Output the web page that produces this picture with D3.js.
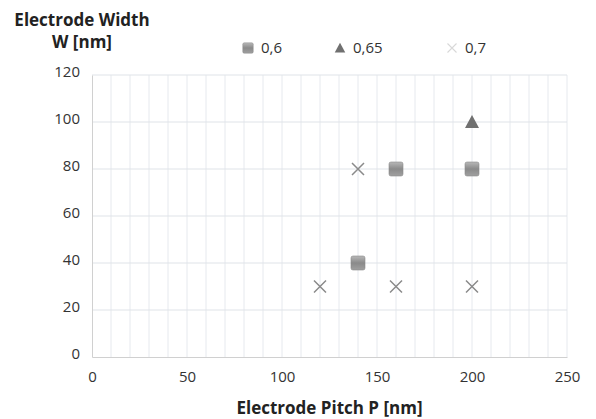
<!DOCTYPE html>
<html>
<head>
<meta charset="utf-8">
<script src="https://cdn.jsdelivr.net/npm/d3@7"></script>
<style>
  body { margin: 0; background: #fff; }
  text { font-family: "Open Sans", sans-serif; }
</style>
</head>
<body>
<div id="chart"></div>
<script>
// series values (x = pitch, y = width)
var seriesNames = ["0,6", "0,65", "0,7"];
var pitch06 = [140, 160, 200];
var width06 = [40, 80, 80];
var pitch065 = [200];
var width065 = [100];
var pitch07 = [120, 140, 160, 200];
var width07 = [30, 80, 30, 30];
var xTicks = [0, 50, 100, 150, 200, 250];
var yTicks = [0, 20, 40, 60, 80, 100, 120];

var W = 596, H = 419;
var margin = {top: 75, right: 29, bottom: 62, left: 92};
var width = W - margin.left - margin.right,
    height = H - margin.top - margin.bottom;

var svg = d3.select("#chart").append("svg")
  .attr("width", W).attr("height", H);

var defs = svg.append("defs");
var grad = defs.append("linearGradient").attr("id", "sq").attr("x1", 0).attr("y1", 0).attr("x2", 0).attr("y2", 1);
grad.append("stop").attr("offset", "0%").attr("stop-color", "#b8b8b8");
grad.append("stop").attr("offset", "50%").attr("stop-color", "#8a8a8a");
grad.append("stop").attr("offset", "100%").attr("stop-color", "#a0a0a0");

var g = svg.append("g").attr("transform", "translate(" + margin.left + "," + margin.top + ")");

var x = d3.scaleLinear().domain([0, 250]).range([0, width]);
var y = d3.scaleLinear().domain([0, 120]).range([height, 0]);

// minor vertical gridlines every 10
g.append("g").selectAll("line").data(d3.range(10, 251, 10)).join("line")
  .attr("x1", d => x(d)).attr("x2", d => x(d))
  .attr("y1", 0).attr("y2", height)
  .attr("stroke", "#e6e9ee").attr("stroke-width", 1);

// horizontal gridlines
g.append("g").selectAll("line").data(yTicks.slice(1)).join("line")
  .attr("x1", 0).attr("x2", width)
  .attr("y1", d => y(d)).attr("y2", d => y(d))
  .attr("stroke", "#dfe3e8").attr("stroke-width", 1);

// axes
var xAxis = g.append("g").attr("transform", "translate(0," + height + ")")
  .call(d3.axisBottom(x).tickValues(xTicks).tickSize(0).tickPadding(14));
var yAxis = g.append("g")
  .call(d3.axisLeft(y).tickValues(yTicks).tickSize(0).tickPadding(12));
[xAxis, yAxis].forEach(function(a) {
  a.select(".domain").attr("stroke", "#d0d0d0");
  a.selectAll("text").attr("fill", "#333").style("font-size", "15px")
    .style("font-family", "'Open Sans', sans-serif");
});
yAxis.selectAll("text").attr("dy", "0.1em");

// markers
function square(sel) {
  sel.append("rect").attr("x", -7).attr("y", -7).attr("width", 14).attr("height", 14)
    .attr("rx", 2).attr("fill", "url(#sq)").attr("stroke", "#8a8a8a").attr("stroke-width", 0.6);
}
function triangle(sel, c) {
  sel.append("path").attr("d", "M0,-7L7,6L-7,6Z").attr("fill", c || "#707070");
}
function cross(sel, c) {
  sel.append("path").attr("d", "M-6,-6L6,6M-6,6L6,-6").attr("stroke", c || "#8a8a8a")
    .attr("stroke-width", 1.5).attr("fill", "none");
}

g.append("g").selectAll("g").data(d3.zip(pitch06, width06)).join("g")
  .attr("transform", d => "translate(" + x(d[0]) + "," + y(d[1]) + ")")
  .call(square);
g.append("g").selectAll("g").data(d3.zip(pitch065, width065)).join("g")
  .attr("transform", d => "translate(" + x(d[0]) + "," + y(d[1]) + ")")
  .call(triangle);
g.append("g").selectAll("g").data(d3.zip(pitch07, width07)).join("g")
  .attr("transform", d => "translate(" + x(d[0]) + "," + y(d[1]) + ")")
  .call(cross);

// legend
var legX = [248, 340, 452];
var leg = svg.append("g").selectAll("g").data(seriesNames).join("g")
  .attr("transform", (d, i) => "translate(" + legX[i] + ",48)");
leg.each(function(d, i) {
  var s = d3.select(this).append("g").attr("transform", "scale(0.75)");
  if (i == 0) square(s);
  else if (i == 1) triangle(s);
  else cross(s, "#d8d8d8");
});
leg.append("text").attr("x", 13).attr("dy", "0.35em")
  .attr("fill", "#333").style("font-size", "15px").text(d => d);

// axis titles
var yt = svg.append("text").attr("text-anchor", "middle")
  .style("font-size", "17px").style("font-weight", "bold").attr("fill", "#222");
yt.append("tspan").attr("x", 82).attr("y", 26).text("Electrode Width");
yt.append("tspan").attr("x", 82).attr("y", 48).text("W [nm]");

svg.append("text").attr("x", margin.left + width / 2).attr("y", 414)
  .attr("text-anchor", "middle").style("font-size", "17px").style("font-weight", "bold")
  .attr("fill", "#222").text("Electrode Pitch P [nm]");
</script>
</body>
</html>
